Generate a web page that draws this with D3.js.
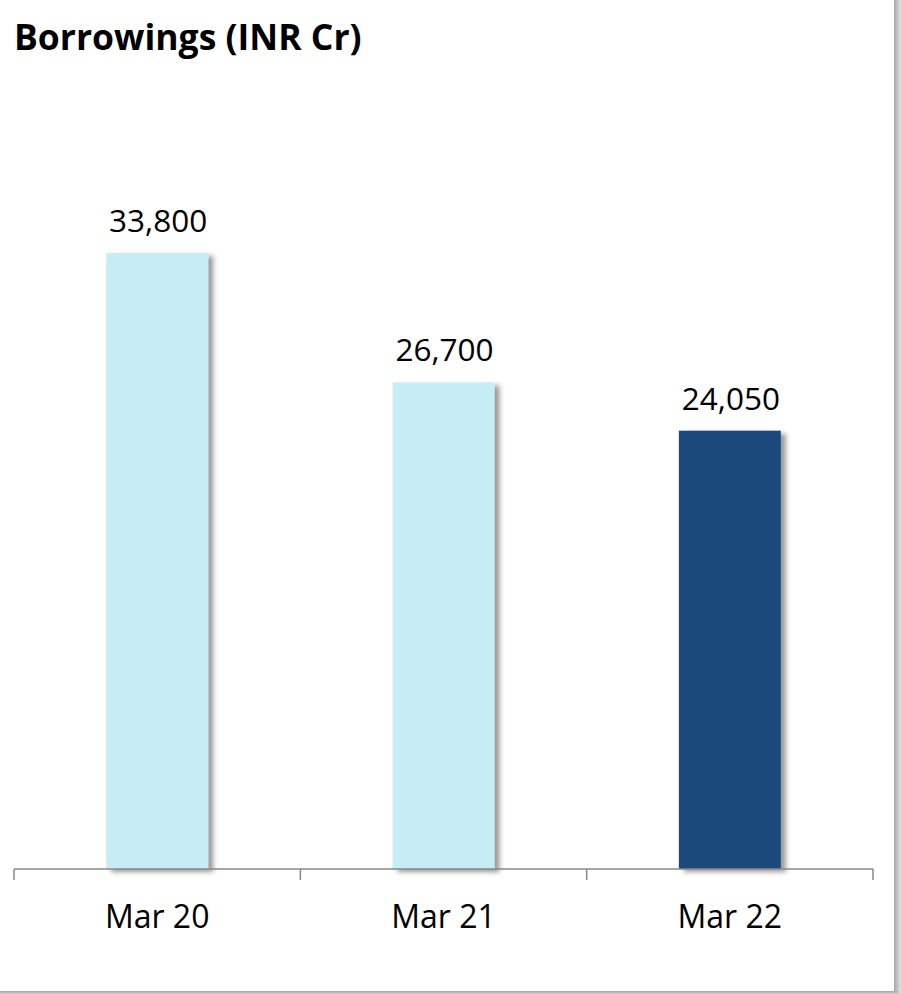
<!DOCTYPE html>
<html>
<head>
<meta charset="utf-8">
<script src="https://cdn.jsdelivr.net/npm/d3@7"></script>
<style>
	html, body { margin: 0; padding: 0; background: #fff; }
	svg { display: block; font-family: "Open Sans", sans-serif; }
</style>
</head>
<body>
<div id="chart"></div>
<script>
// data
var categories = ["Mar 20", "Mar 21", "Mar 22"];
var values = [33800, 26700, 24050];
var barColors = ["#c6ecf5", "#c6ecf5", "#1f487c"];
var title = "Borrowings (INR Cr)";

var W = 901, H = 994;
var margin = { top: 140, right: 28, bottom: 125, left: 14 };

var svg = d3.select("#chart").append("svg")
	.attr("width", W)
	.attr("height", H);

var defs = svg.append("defs");

// soft shadow like the office chart bars
defs.append("filter")
	.attr("id", "shadow")
	.attr("x", "-20%").attr("y", "-20%")
	.attr("width", "150%").attr("height", "150%")
	.append("feDropShadow")
	.attr("dx", 5).attr("dy", 3)
	.attr("stdDeviation", 2.5)
	.attr("flood-color", "#000")
	.attr("flood-opacity", 0.4);

// frame shadow on right + bottom edges
var gr = defs.append("linearGradient").attr("id", "edgeR").attr("x1", 0).attr("x2", 1).attr("y1", 0).attr("y2", 0);
gr.append("stop").attr("offset", "0%").attr("stop-color", "#a6a6a6");
gr.append("stop").attr("offset", "100%").attr("stop-color", "#e4e4e4");
var gb = defs.append("linearGradient").attr("id", "edgeB").attr("x1", 0).attr("x2", 0).attr("y1", 0).attr("y2", 1);
gb.append("stop").attr("offset", "0%").attr("stop-color", "#a6a6a6");
gb.append("stop").attr("offset", "100%").attr("stop-color", "#d0d0d0");

svg.append("rect").attr("x", 894).attr("y", 0).attr("width", 7).attr("height", H).attr("fill", "url(#edgeR)");
svg.append("rect").attr("x", 0).attr("y", 991).attr("width", 897).attr("height", 3).attr("fill", "url(#edgeB)");

// title
svg.append("text")
	.attr("x", 14)
	.attr("y", 50)
	.style("font-weight", "bold")
	.style("font-size", "35.5px")
	.attr("fill", "#000")
	.text(title);

var x = d3.scaleBand()
	.domain(categories)
	.range([margin.left, W - margin.right])
	.padding(0);

var y = d3.scaleLinear()
	.domain([0, 40000])
	.range([H - margin.bottom, margin.top]);

var barW = x.bandwidth() * 0.356;
var y0 = y(0);

// bars
svg.append("g").selectAll("rect")
	.data(values)
	.join("rect")
	.attr("x", function(d, i) { return x(categories[i]) + (x.bandwidth() - barW) / 2; })
	.attr("y", function(d) { return y(d); })
	.attr("width", barW)
	.attr("height", function(d) { return y0 - y(d); })
	.attr("fill", function(d, i) { return barColors[i]; })
	.attr("filter", "url(#shadow)");

// value labels
svg.append("g").selectAll("text")
	.data(values)
	.join("text")
	.attr("x", function(d, i) { return x(categories[i]) + x.bandwidth() / 2 + 1; })
	.attr("y", function(d) { return y(d) - 21; })
	.attr("text-anchor", "middle")
	.style("font-size", "31.5px")
	.attr("fill", "#000")
	.text(function(d) { return d3.format(",")(d); });

// category axis: line at zero, ticks on band edges
var axis_g = svg.append("g").attr("class", "x axis");
var r = x.range();
axis_g.append("line")
	.attr("x1", r[0]).attr("x2", r[1])
	.attr("y1", y0).attr("y2", y0)
	.attr("stroke", "#888").attr("stroke-width", 1.5);

var edges = categories.map(function(c) { return x(c); }).concat([r[1]]);
axis_g.selectAll("line.tick")
	.data(edges)
	.join("line")
	.attr("class", "tick")
	.attr("x1", function(d) { return d; }).attr("x2", function(d) { return d; })
	.attr("y1", y0).attr("y2", y0 + 11)
	.attr("stroke", "#888").attr("stroke-width", 1.5);

axis_g.selectAll("text")
	.data(categories)
	.join("text")
	.attr("x", function(d) { return x(d) + x.bandwidth() / 2; })
	.attr("y", 928)
	.attr("text-anchor", "middle")
	.style("font-size", "32px")
	.attr("fill", "#000")
	.text(function(d) { return d; });
</script>
</body>
</html>
